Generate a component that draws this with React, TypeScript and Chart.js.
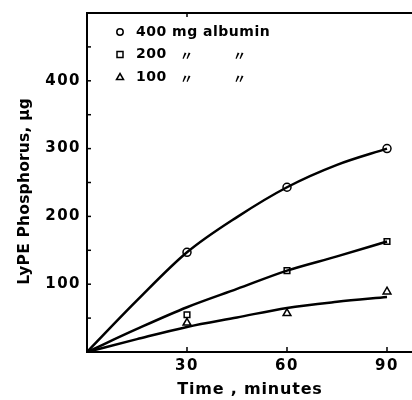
import React, { useEffect, useRef } from "react";
import { Chart, registerables } from "chart.js";
Chart.register(...registerables);

const sampleTimes = [30, 60, 90];
const albumin400 = [147, 243, 300];
const albumin200 = [55, 120, 163];
const albumin100 = [43, 57, 89];
const curveTimes = [0, 15, 30, 45, 60, 75, 90];
const curve400 = [0, 76, 147, 199, 243, 276, 300];
const curve200 = [0, 34, 66, 93, 120, 141, 163];
const curve100 = [0, 19, 37, 51, 65, 74, 81];
const legendLabels = ["400 mg albumin", "200", "100"];
const legendStyles = ["circle", "rect", "triangle"];
const dittoMark = "\u3003";
const xTickValues = [30, 60, 90];
const yTickValues = [100, 200, 300, 400];
const yMinorTicks = [50, 100, 150, 200, 250, 300, 350, 400, 450];
const xTitle = "Time , minutes";
const yTitle = "LyPE Phosphorus, \u03bcg";

const FONT = "'DejaVu Sans', sans-serif";

const pts = (xs: number[], ys: number[]) => xs.map((x, i) => ({ x, y: ys[i] }));

function drawMarker(ctx: CanvasRenderingContext2D, style: string, x: number, y: number) {
  ctx.save();
  ctx.fillStyle = "#fff";
  ctx.strokeStyle = "#000";
  ctx.lineWidth = 1.5;
  ctx.beginPath();
  if (style === "circle") ctx.arc(x, y, 3.2, 0, Math.PI * 2);
  else if (style === "rect") ctx.rect(x - 3, y - 3, 6, 6);
  else {
    ctx.moveTo(x, y - 3.5);
    ctx.lineTo(x + 3.5, y + 2.5);
    ctx.lineTo(x - 3.5, y + 2.5);
    ctx.closePath();
  }
  ctx.fill();
  ctx.stroke();
  ctx.restore();
}

const decorPlugin = {
  id: "decor",
  beforeDraw(chart: any) {
    (chart.ctx as any).letterSpacing = "1.5px";
  },
  afterDraw(chart: any) {
    const { ctx, chartArea } = chart;
    const xs = chart.scales.x;
    const ys = chart.scales.y;
    ctx.save();
    ctx.strokeStyle = "#000";
    ctx.lineWidth = 2;
    ctx.beginPath();
    ctx.moveTo(chartArea.left, chartArea.top);
    ctx.lineTo(chart.width, chartArea.top);
    ctx.stroke();
    ctx.lineWidth = 1.5;
    yMinorTicks.forEach((v) => {
      const py = ys.getPixelForValue(v);
      ctx.beginPath();
      ctx.moveTo(chartArea.left, py);
      ctx.lineTo(chartArea.left + 4, py);
      ctx.stroke();
    });
    xTickValues.forEach((v) => {
      const px = xs.getPixelForValue(v);
      ctx.beginPath();
      ctx.moveTo(px, chartArea.bottom);
      ctx.lineTo(px, chartArea.bottom - 5);
      ctx.stroke();
    });
    const p30 = xs.getPixelForValue(xTickValues[0]);
    ctx.beginPath();
    ctx.moveTo(p30, chartArea.top);
    ctx.lineTo(p30, chartArea.top + 4);
    ctx.stroke();

    ctx.fillStyle = "#000";
    ctx.textBaseline = "middle";

    // axis titles
    (ctx as any).letterSpacing = "0.8px";
    ctx.font = "bold 16px " + FONT;
    ctx.textAlign = "center";
    ctx.fillText(xTitle, (chartArea.left + chart.width) / 2 + 0.5, chartArea.bottom + 38);
    ctx.save();
    (ctx as any).letterSpacing = "0.2px";
    ctx.font = "bold 15.5px " + FONT;
    ctx.translate(25, ys.getPixelForValue(237));
    ctx.rotate(-Math.PI / 2);
    ctx.fillText(yTitle, 0, 0);
    ctx.restore();

    // legend
    ctx.textAlign = "left";
    legendLabels.forEach((label, i) => {
      const y = chartArea.top + 19 + i * 22.5;
      drawMarker(ctx, legendStyles[i], chartArea.left + 33, y);
      (ctx as any).letterSpacing = "0.5px";
      ctx.font = "bold 14px " + FONT;
      ctx.fillText(label, chartArea.left + 49, y);
      if (i > 0) {
        (ctx as any).letterSpacing = "0px";
        ctx.font = "bold 13px 'Noto Sans CJK JP', sans-serif";
        ctx.fillText(dittoMark, chartArea.left + 93, y + 1);
        ctx.fillText(dittoMark, chartArea.left + 146, y + 1);
      }
    });
    ctx.restore();
  },
};

export default function App() {
  const ref = useRef<HTMLCanvasElement>(null);
  useEffect(() => {
    if (!ref.current) return;
    const lineDs = (ys: number[]) => ({
      data: pts(curveTimes, ys),
      showLine: true,
      borderColor: "#000",
      borderWidth: 2.5,
      pointRadius: 0,
      cubicInterpolationMode: "monotone" as const,
      fill: false,
    });
    const markDs = (ys: number[], style: string) => ({
      data: pts(sampleTimes, ys),
      showLine: false,
      pointStyle: style,
      pointRadius: style === "triangle" ? 4.5 : 4,
      pointBackgroundColor: "#fff",
      pointBorderColor: "#000",
      pointBorderWidth: 1.5,
    });
    const chart = new Chart(ref.current, {
      type: "scatter",
      data: {
        datasets: [
          lineDs(curve400),
          lineDs(curve200),
          lineDs(curve100),
          markDs(albumin400, "circle"),
          markDs(albumin200, "rect"),
          markDs(albumin100, "triangle"),
        ] as any,
      },
      options: {
        animation: false,
        responsive: false,
        layout: { autoPadding: false, padding: { top: 13, right: 0, left: 0, bottom: 0 } },
        plugins: { legend: { display: false }, tooltip: { enabled: false } },
        scales: {
          x: {
            type: "linear",
            min: 0,
            max: 97.5,
            grid: { display: false, drawTicks: false },
            border: { display: true, color: "#000", width: 2 },
            afterBuildTicks: (s: any) => {
              s.ticks = xTickValues.map((v) => ({ value: v }));
            },
            afterFit: (s: any) => {
              s.height = 48;
              s.paddingRight = 0;
              s.paddingLeft = 0;
            },
            ticks: {
              color: "#000",
              padding: 5,
              font: { family: FONT, size: 15, weight: "bold" },
              maxRotation: 0,
            },
          },
          y: {
            type: "linear",
            min: 0,
            max: 500,
            grid: { display: false, drawTicks: false },
            border: { display: true, color: "#000", width: 2 },
            afterBuildTicks: (s: any) => {
              s.ticks = yTickValues.map((v) => ({ value: v }));
            },
            afterFit: (s: any) => {
              s.width = 87;
              s.paddingTop = 0;
              s.paddingBottom = 0;
            },
            ticks: {
              color: "#000",
              padding: 6,
              font: { family: FONT, size: 15, weight: "bold" },
            },
          },
        },
      } as any,
      plugins: [decorPlugin],
    });
    return () => chart.destroy();
  }, []);
  return (
    <div style={{ position: "absolute", left: 0, top: 0, width: 412, height: 400, background: "#fff" }}>
      <canvas ref={ref} width={412} height={400} />
    </div>
  );
}
